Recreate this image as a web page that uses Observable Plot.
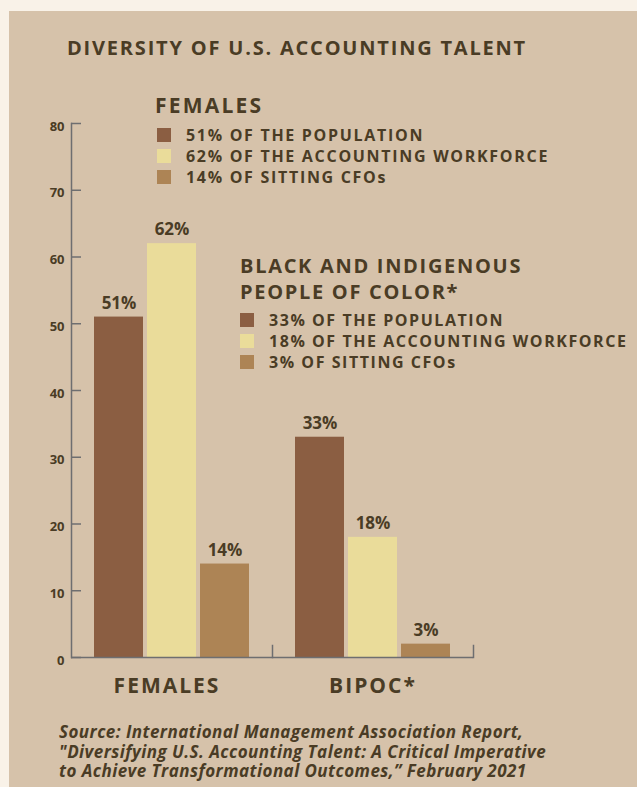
<!DOCTYPE html>
<html>
<head>
<meta charset="utf-8">
<script src="https://cdn.jsdelivr.net/npm/d3@7"></script>
<script src="https://cdn.jsdelivr.net/npm/@observablehq/plot@0.6"></script>
<style>
  html, body { margin: 0; padding: 0; }
  body { width: 637px; height: 787px; background: #f9f2e8; position: relative; overflow: hidden;
         font-family: "Open Sans", sans-serif; color: #4a3c25; }
  #panel { position: absolute; left: 9px; top: 11px; right: 0; bottom: 0; background: #d6c2aa; }
  .abs { position: absolute; white-space: nowrap; }
  #title { left: 67px; top: 38px; font-size: 20px; line-height: 1; font-weight: 700; letter-spacing: 1.8px; }
  #chart { position: absolute; left: 0; top: 100px; }
  .lghead { font-weight: 700; }
  .row { display: flex; align-items: center; height: 21px; font-size: 16px; line-height: 21px; font-weight: 700; }
  .sw { width: 14px; height: 14px; flex: none; }
  .cap { font-size: 17px; line-height: 19.5px; height: 19.5px; font-weight: 700; font-style: italic; letter-spacing: 0.45px; }
</style>
</head>
<body>
<div id="panel"></div>
<div id="title" class="abs"></div>
<div id="chart"></div>
<div id="legend1" class="abs" style="left:155px; top:95px;"></div>
<div id="legend2" class="abs" style="left:240px; top:252.5px;"></div>
<div id="caption" class="abs" style="left:59px; top:722px;"></div>
<script>
// ---- data ----
const titleText = "DIVERSITY OF U.S. ACCOUNTING TALENT";
const groups = ["FEMALES", "BIPOC*"];
const seriesKeys = ["population", "workforce", "cfos"];
const seriesColors = ["#8b5e42", "#eadc9a", "#ad8455"];
const femalesValues = [51, 62, 14];
const bipocValues = [33, 18, 2];           // bar heights as drawn in the picture
const femalesLabels = ["51%", "62%", "14%"];
const bipocLabels = ["33%", "18%", "3%"];
const yTicks = [0, 10, 20, 30, 40, 50, 60, 70, 80];
const legendFemalesTitle = ["FEMALES"];
const legendFemalesItems = ["51% OF THE POPULATION", "62% OF THE ACCOUNTING WORKFORCE", "14% OF SITTING CFOs"];
const legendBipocTitle = ["BLACK AND INDIGENOUS", "PEOPLE OF COLOR*"];
const legendBipocItems = ["33% OF THE POPULATION", "18% OF THE ACCOUNTING WORKFORCE", "3% OF SITTING CFOs"];
const captionLines = [
  "Source: International Management Association Report,",
  "\"Diversifying U.S. Accounting Talent: A Critical Imperative",
  "to Achieve Transformational Outcomes,\u201D February 2021"
];

// ---- build table ----
const rows = [];
seriesKeys.forEach((s, i) => rows.push({group: groups[0], series: s, value: femalesValues[i], label: femalesLabels[i]}));
seriesKeys.forEach((s, i) => rows.push({group: groups[1], series: s, value: bipocValues[i], label: bipocLabels[i]}));

const ink = "#4a3c25";
const axisGray = "#6e6e70";

const plot = Plot.plot({
  width: 637,
  height: 607,
  marginLeft: 71,
  marginRight: 164,
  marginTop: 23,
  marginBottom: 50,
  style: {background: "transparent", fontFamily: "'Open Sans', sans-serif", color: ink, overflow: "visible"},
  fx: {domain: groups, padding: 0, label: null},
  x: {domain: seriesKeys, paddingInner: 0.075, paddingOuter: 0.43, axis: null},
  y: {domain: [0, 80], axis: null},
  color: {domain: seriesKeys, range: seriesColors},
  marks: [
    Plot.barY(rows, {fx: "group", x: "series", y: "value", fill: "series"}),
    Plot.text(rows, {fx: "group", x: "series", y: "value", text: "label", dy: -14,
      fontSize: 17, fontWeight: 700, fill: ink, style: "letter-spacing: 0.5px"}),
    Plot.axisY({ticks: yTicks, tickSize: 0, tickPadding: 7, dy: 3, fontSize: 13, fontWeight: 700, fill: ink, label: null}),
    Plot.tickY(yTicks, {y: d => d, facetAnchor: "left", insetRight: 191, stroke: axisGray, strokeWidth: 1.5}),
    Plot.frame({anchor: "left", facetAnchor: "left", stroke: axisGray, strokeWidth: 1.5}),
    Plot.ruleY([0], {stroke: axisGray, strokeWidth: 1.5}),
    Plot.frame({anchor: "right", insetTop: 522, stroke: axisGray, strokeWidth: 1.5}),
    Plot.axisFx({anchor: "bottom", tickSize: 0, tickPadding: 21, fontSize: 21, fontWeight: 700, fill: ink, label: null})
  ]
});
document.getElementById("chart").appendChild(plot);
d3.select(plot).selectAll("g[aria-label='fx-axis tick label'] text")
  .style("letter-spacing", "2px")
  .attr("dx", (d, i) => i === 0 ? -5 : 0);

// ---- text ----
document.getElementById("title").textContent = titleText;

function legend(el, titleLines, items, headSize, headLH, spacing, rowSpacing, rowsTop, rowsLeft) {
  const head = document.createElement("div");
  head.className = "lghead";
  head.style.fontSize = headSize + "px";
  head.style.lineHeight = headLH + "px";
  head.style.letterSpacing = spacing + "px";
  head.innerHTML = titleLines.join("<br>");
  el.appendChild(head);
  const box = document.createElement("div");
  box.style.position = "absolute"; box.style.left = rowsLeft + "px"; box.style.top = rowsTop + "px";
  items.forEach((t, i) => {
    const r = document.createElement("div"); r.className = "row";
    r.style.letterSpacing = rowSpacing + "px";
    const sw = document.createElement("div"); sw.className = "sw"; sw.style.background = seriesColors[i];
    const tx = document.createElement("span"); tx.textContent = t; tx.style.marginLeft = "15px";
    r.appendChild(sw); r.appendChild(tx); box.appendChild(r);
  });
  el.appendChild(box);
}
legend(document.getElementById("legend1"), legendFemalesTitle, legendFemalesItems, 21, 21, 2.2, 1.7, 29.5, 2);
legend(document.getElementById("legend2"), legendBipocTitle, legendBipocItems, 20, 26, 1.7, 1.55, 57, 0);

const cap = document.getElementById("caption");
captionLines.forEach(s => {
  const d = document.createElement("div"); d.className = "cap"; d.textContent = s; cap.appendChild(d);
});
</script>
</body>
</html>
